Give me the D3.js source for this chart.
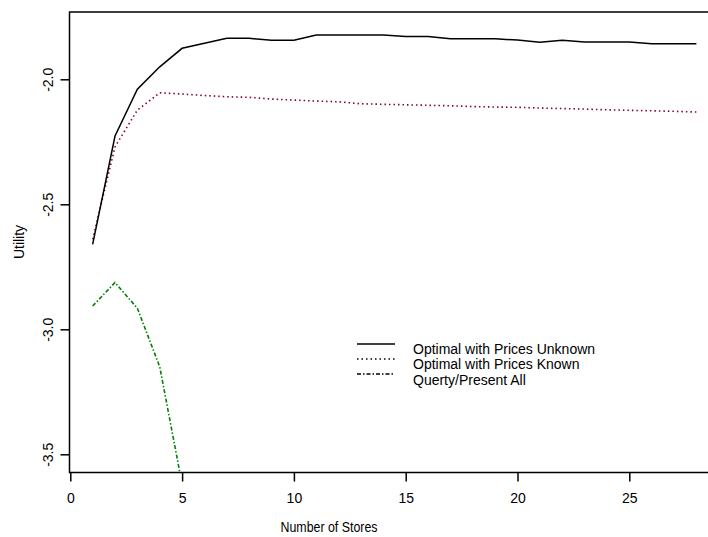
<!DOCTYPE html>
<html>
<head>
<meta charset="utf-8">
<script src="https://cdn.jsdelivr.net/npm/d3@7"></script>
<style>
  html, body { margin: 0; padding: 0; background: #fff; }
  svg { display: block; font-family: "Liberation Sans", Arial, sans-serif; }
</style>
</head>
<body>
<svg id="chart" width="708" height="537"></svg>
<script>
const stores = [1,2,3,4,5,6,7,8,9,10,11,12,13,14,15,16,17,18,19,20,21,22,23,24,25,26,27,28];
const unknownVals = [-2.66,-2.227,-2.04,-1.95,-1.876,-1.856,-1.836,-1.836,-1.844,-1.844,-1.823,-1.823,-1.823,-1.823,-1.829,-1.829,-1.838,-1.838,-1.838,-1.843,-1.852,-1.844,-1.851,-1.851,-1.851,-1.858,-1.858,-1.858];
const knownVals = [-2.64,-2.27,-2.123,-2.054,-2.059,-2.065,-2.07,-2.072,-2.079,-2.083,-2.087,-2.09,-2.098,-2.100,-2.102,-2.104,-2.106,-2.109,-2.111,-2.112,-2.115,-2.117,-2.119,-2.122,-2.124,-2.126,-2.128,-2.131];
const queryStores = [1,2,3,4,5];
const queryVals = [-2.907,-2.813,-2.916,-3.15,-3.62];
const xTicks = [0,5,10,15,20,25];
const yTicks = [-3.5,-3.0,-2.5,-2.0];
const legendLabels = ["Optimal with Prices Unknown","Optimal with Prices Known","Querty/Present All"];
const xLabel = "Number of Stores";
const yLabel = "Utility";

const svg = d3.select("#chart");
const pLeft = 69.5, pTop = 12, pBottom = 472.5, pRight = 730;

const x = d3.scaleLinear().domain([0, 25]).range([70.3, 629.3]);
const y = d3.scaleLinear().domain([-2.0, -3.5]).range([79.3, 454.3]);

svg.append("defs").append("clipPath").attr("id","clip")
  .append("rect").attr("x", pLeft).attr("y", pTop).attr("width", pRight-pLeft).attr("height", pBottom-pTop);

// frame (left, top, bottom)
svg.append("path")
  .attr("d", `M${pRight},${pTop}H${pLeft}V${pBottom}H${pRight}`)
  .attr("fill","none").attr("stroke","#000").attr("stroke-width",1.5);

// x axis
const gx = svg.append("g").attr("transform", `translate(0,${pBottom})`)
  .call(d3.axisBottom(x).tickValues(xTicks).tickSize(9).tickFormat(d => String(d)));
gx.select(".domain").remove();
gx.selectAll(".tick line").attr("stroke","#000").attr("stroke-width",1.5);
gx.selectAll(".tick text").attr("y", 30.5).attr("dy", 0)
  .attr("font-size", 14).attr("font-family","Liberation Sans, Arial, sans-serif").attr("fill","#000");

// y axis
const gy = svg.append("g").attr("transform", `translate(${pLeft},0)`)
  .call(d3.axisLeft(y).tickValues(yTicks).tickSize(9).tickFormat(d => d.toFixed(1)));
gy.select(".domain").remove();
gy.selectAll(".tick line").attr("stroke","#000").attr("stroke-width",1.5);
gy.selectAll(".tick text").attr("x", 0).attr("dy", 0).attr("text-anchor","middle")
  .attr("transform","translate(-16.5,0) rotate(-90)")
  .attr("font-size", 14).attr("font-family","Liberation Sans, Arial, sans-serif").attr("fill","#000");

// axis labels
svg.append("text").attr("x", 329).attr("y", 532).attr("text-anchor","middle")
  .attr("font-size", 14).attr("textLength", 97).attr("lengthAdjust","spacingAndGlyphs")
  .text(xLabel);
svg.append("text").attr("transform","translate(24,242) rotate(-90)").attr("text-anchor","middle")
  .attr("font-size", 14).text(yLabel);

// lines
const plot = svg.append("g").attr("clip-path","url(#clip)");
const line = d3.line().x(d => x(d[0])).y(d => y(d[1]));

plot.append("path").datum(stores.map((s,i) => [s, knownVals[i]]))
  .attr("d", line).attr("fill","none").attr("stroke","#80003f")
  .attr("stroke-width",1.6).attr("stroke-dasharray","1.5,3");

plot.append("path").datum(stores.map((s,i) => [s, unknownVals[i]]))
  .attr("d", line).attr("fill","none").attr("stroke","#000").attr("stroke-width",1.5);

plot.append("path").datum(queryStores.map((s,i) => [s, queryVals[i]]))
  .attr("d", line).attr("fill","none").attr("stroke","#008000")
  .attr("stroke-width",1.6).attr("stroke-dasharray","4,2,1.5,2");

// legend
const legendDash = [null, "1.5,3", "4,2,1.5,2"];
const lineY = [344, 359, 374];
const textY = [353.5, 369, 384.5];
legendLabels.forEach((lab, i) => {
  svg.append("line").attr("x1", 357).attr("x2", 395).attr("y1", lineY[i]).attr("y2", lineY[i])
    .attr("stroke","#000").attr("stroke-width", 1.5)
    .attr("stroke-dasharray", legendDash[i]);
  svg.append("text").attr("x", 413).attr("y", textY[i]).attr("font-size", 14).text(lab);
});
</script>
</body>
</html>
